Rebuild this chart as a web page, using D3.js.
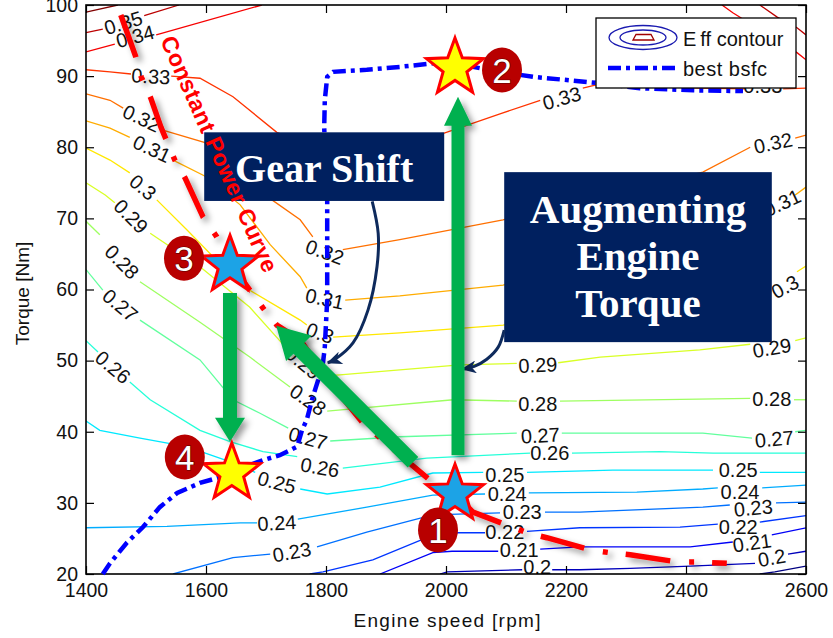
<!DOCTYPE html>
<html>
<head>
<meta charset="utf-8">
<script src="https://cdn.jsdelivr.net/npm/d3@7"></script>
<style>
  html, body { margin: 0; padding: 0; background: #fff; }
  svg { display: block; font-family: "Liberation Sans", Arial, sans-serif; }
</style>
</head>
<body>
<svg id="chart" width="833" height="638"></svg>
<script>
// ---- axes ----
const rpmTicks = [1400, 1600, 1800, 2000, 2200, 2400, 2600];
const torqueTicks = [20, 30, 40, 50, 60, 70, 80, 90, 100];

// ---- efficiency contour levels ----
const contourLevels = [0.19, 0.20, 0.21, 0.22, 0.23, 0.24, 0.25, 0.26, 0.27, 0.28, 0.29, 0.30, 0.31, 0.32, 0.33, 0.34, 0.35, 0.36];

// contour pieces: [level, [[rpm, torque], ...]]  (pieces are broken where labels sit)
const effSegments = [
  [0.36, [[1400, 99.0], [1453, 100]]],
  [0.35, [[1400, 96.1], [1428, 96.6]]],
  [0.35, [[1497, 98.5], [1555, 100]]],
  [0.35, [[2523, 100], [2552, 98.3], [2585, 96.8], [2600, 95.8]]],
  [0.34, [[1400, 93.4], [1448, 94.5]]],
  [0.34, [[1517, 95.8], [1693, 100]]],
  [0.34, [[2460, 100], [2478, 98.9], [2585, 93.3], [2600, 92.3]]],
  [0.33, [[1400, 90.9], [1440, 90.6], [1475, 90.3]]],
  [0.33, [[1542, 90.0], [1590, 89.7], [1645, 87.1], [1718, 82.1], [1790, 79.6], [1890, 80.7], [1997, 82.0], [2090, 84.7], [2157, 86.6]]],
  [0.33, [[2228, 88.3], [2257, 88.9], [2340, 88.6], [2423, 88.3], [2498, 88.2]]],
  [0.33, [[2562, 88.2], [2600, 88.3]]],
  [0.32, [[1400, 87.5], [1440, 86.6], [1462, 85.5]]],
  [0.32, [[1528, 82.4], [1597, 80.7], [1640, 77.5], [1698, 73.3], [1757, 69.8], [1778, 67.4]]],
  [0.32, [[1828, 65.6], [1923, 67.0], [2095, 69.8], [2428, 76.5], [2507, 80.0]]],
  [0.32, [[2582, 81.3], [2600, 81.7]]],
  [0.31, [[1400, 83.7], [1440, 82.7], [1473, 81.4]]],
  [0.31, [[1545, 78.2], [1597, 76.0], [1657, 71.9], [1707, 66.3], [1757, 61.8], [1768, 60.2]]],
  [0.31, [[1832, 58.5], [1923, 59.1], [2095, 60.6], [2543, 70.1]]],
  [0.31, [[2582, 73.3], [2600, 74.4]]],
  [0.30, [[1400, 79.9], [1440, 78.2], [1473, 76.4]]],
  [0.30, [[1518, 72.6], [1568, 68.4], [1612, 64.6], [1673, 59.9], [1757, 55.7], [1768, 55.0]]],
  [0.30, [[1812, 53.3], [1923, 53.9], [2095, 55.0], [2540, 59.9]]],
  [0.30, [[2585, 62.5], [2600, 63.3]]],
  [0.29, [[1400, 75.0], [1432, 73.3], [1448, 72.2]]],
  [0.29, [[1507, 67.9], [1590, 63.2], [1673, 57.5], [1740, 51.2]]],
  [0.29, [[1790, 47.8], [1823, 48.0], [2023, 49.4], [2118, 49.6]]],
  [0.29, [[2187, 49.7], [2257, 50.5], [2423, 51.5], [2507, 52.3]]],
  [0.29, [[2582, 52.8], [2600, 53.2]]],
  [0.28, [[1400, 69.6], [1423, 67.7]]],
  [0.28, [[1490, 61.1], [1590, 55.4], [1673, 50.5], [1740, 46.3]]],
  [0.28, [[1802, 42.9], [2012, 44.5], [2118, 44.3]]],
  [0.28, [[2190, 44.3], [2507, 44.7]]],
  [0.28, [[2580, 44.5], [2600, 44.5]]],
  [0.27, [[1400, 62.8], [1428, 59.9]]],
  [0.27, [[1490, 55.7], [1590, 50.1], [1645, 44.5], [1690, 42.6], [1737, 40.5]]],
  [0.27, [[1807, 38.7], [1923, 39.3], [2118, 39.8]]],
  [0.27, [[2193, 39.8], [2278, 39.8], [2428, 39.8], [2510, 39.1]]],
  [0.27, [[2582, 40.0], [2600, 40.2]]],
  [0.26, [[1400, 52.8], [1420, 51.2]]],
  [0.26, [[1473, 47.0], [1507, 44.5], [1590, 40.2], [1640, 38.6], [1695, 37.2], [1752, 36.5]]],
  [0.26, [[1828, 34.9], [1968, 36.3], [2140, 37.0]]],
  [0.26, [[2210, 37.0], [2357, 37.2], [2445, 37.0], [2600, 37.0]]],
  [0.25, [[1400, 41.5], [1423, 40.2], [1490, 39.1], [1568, 37.9], [1643, 35.7], [1682, 34.3]]],
  [0.25, [[1757, 31.95], [1802, 31.25], [1890, 32.2], [1978, 34.2], [2062, 34.3]]],
  [0.25, [[2135, 34.3], [2278, 34.6], [2445, 34.6]]],
  [0.25, [[2523, 34.3], [2600, 34.3]]],
  [0.24, [[1400, 26.5], [1535, 26.7], [1657, 27.2], [1685, 27.2]]],
  [0.24, [[1753, 27.7], [1868, 29.4], [1978, 31.1], [2065, 31.25]]],
  [0.24, [[2138, 31.4], [2318, 31.5], [2428, 31.95], [2453, 32.1]]],
  [0.24, [[2527, 32.1], [2600, 32.5]]],
  [0.23, [[1545, 20], [1645, 22.3], [1707, 22.8]]],
  [0.23, [[1785, 23.8], [1868, 25.9], [1978, 28.3], [2090, 28.6]]],
  [0.23, [[2165, 28.7], [2223, 28.7], [2428, 29.4], [2473, 29.7]]],
  [0.23, [[2550, 30.0], [2600, 30.1]]],
  [0.22, [[1773, 20], [1795, 20.3], [1878, 22.0], [1968, 25.1], [2012, 25.8], [2065, 25.8]]],
  [0.22, [[2135, 26.0], [2223, 26.5], [2390, 26.6], [2453, 27.0]]],
  [0.22, [[2523, 27.3], [2600, 28.2]]],
  [0.21, [[1890, 20], [1978, 23.0], [2010, 23.2], [2087, 23.2]]],
  [0.21, [[2157, 23.5], [2223, 23.8], [2407, 23.8], [2478, 24.5]]],
  [0.21, [[2543, 25.5], [2600, 26.5]]],
  [0.20, [[1990, 20], [2002, 20.3], [2127, 20.6]]],
  [0.20, [[2177, 20.6], [2223, 20.6], [2307, 20.8], [2407, 21.1], [2515, 21.5]]],
  [0.20, [[2570, 22.8], [2600, 23.2]]],
  [0.19, [[2523, 20], [2548, 20.3], [2600, 21.1]]]
];

// inline contour labels: [level, rpm, torque]
const effLabels = [
  [0.35, 1462, 97.5], [0.34, 1482, 95.6],
  [0.33, 1508, 90.0], [0.33, 2193, 86.9], [0.33, 2528, 88.7],
  [0.32, 1493, 84.1], [0.32, 1798, 65.3], [0.32, 2545, 80.6],
  [0.31, 1510, 79.8], [0.31, 1798, 58.7], [0.31, 2560, 72.2],
  [0.30, 1495, 74.4], [0.30, 1790, 53.9], [0.30, 2565, 60.4],
  [0.29, 1475, 70.3], [0.29, 1762, 49.7], [0.29, 2153, 49.4], [0.29, 2543, 51.8],
  [0.28, 1460, 63.9], [0.28, 1770, 44.5], [0.28, 2153, 44.0], [0.28, 2543, 44.6],
  [0.27, 1457, 57.8], [0.27, 1770, 39.1], [0.27, 2157, 39.5], [0.27, 2547, 39.0],
  [0.26, 1445, 49.1], [0.26, 1790, 35.0], [0.26, 2173, 37.0],
  [0.25, 1718, 32.9], [0.25, 2098, 33.9], [0.25, 2487, 34.6],
  [0.24, 1718, 27.2], [0.24, 2102, 31.25], [0.24, 2490, 31.5],
  [0.23, 1743, 23.1], [0.23, 2127, 28.7], [0.23, 2512, 29.3],
  [0.22, 2098, 25.9], [0.22, 2487, 26.7],
  [0.21, 2122, 23.4], [0.21, 2510, 24.4],
  [0.20, 2152, 21.0], [0.20, 2543, 22.3]
];
const labelAngles = [
  -17, -15,
  3, -16, 0,
  25, 20, -12,
  25, 12, -25,
  40, 20, -28,
  45, 40, -3, -10,
  45, 35, 0, 0,
  40, 15, -3, -5,
  40, 10, 0,
  15, 0, 0,
  -3, 0, 0,
  -10, 0, -5,
  0, 0,
  0, -8,
  0, -10
];

// ---- best bsfc operating line ----
const bestRpm = [1428, 1440, 1468, 1495, 1523, 1552, 1590, 1623, 1662, 1695, 1723, 1752, 1760, 1768, 1778, 1787, 1795, 1798, 1802, 1802, 1797, 1798, 1802, 1812, 1868, 1923, 1978, 2012, 2045, 2090, 2145, 2195, 2257, 2323, 2412, 2495];
const bestTq  = [20, 21.5, 24.4, 26.6, 29.4, 31.4, 32.8, 33.6, 35.0, 36.0, 36.7, 37.9, 40.2, 41.7, 44.9, 47.3, 49.7, 51.9, 58.5, 72.6, 82.8, 86.6, 89.9, 90.6, 90.9, 91.3, 91.8, 92.0, 91.3, 90.6, 89.9, 89.5, 89.0, 88.3, 88.0, 87.9];

// ---- constant power curve ----
const cpRpm = [1458, 1483, 1492, 1508, 1525, 1548, 1565, 1595, 1618, 1640, 1695, 1718, 1757, 1807, 1862, 1928, 1973, 2015, 2045, 2135, 2168, 2240, 2273, 2307, 2385, 2418, 2468];
const cpTq  = [98.6, 92.7, 89.9, 86.9, 82.8, 78.2, 75.7, 70.2, 67.4, 63.7, 57.4, 55.0, 52.9, 46.9, 41.2, 36.4, 33.2, 31.25, 28.7, 25.8, 25.1, 23.4, 23.0, 22.7, 21.7, 21.7, 21.5];

// ---- operating points 1..4 ----
const opNames = ["1", "2", "3", "4"];
const opRpm = [2015, 2015, 1640, 1643];
const opTq  = [31.25, 91.15, 63.4, 34.2];

// ---- transition arrows (rpm, torque) ----
const arrowFrom = [[2020, 36.7], [1640, 59.5], [1945, 35.7]];
const arrowTo   = [[2020, 87.1], [1640, 38.6], [1717, 54.9]];

// ---- callout text ----
const gearText = "Gear Shift";
const torqueText = ["Augmenting", "Engine", "Torque"];
const curveText = "Constant Power Curve";

// ===================================================================
const svg = d3.select("#chart");
const x = d3.scaleLinear().domain([1400, 2600]).range([86, 806]);
const y = d3.scaleLinear().domain([20, 100]).range([574, 5]);
const defs = svg.append("defs");

defs.append("clipPath").attr("id", "plotClip").append("rect")
  .attr("x", x(1400)).attr("y", y(100))
  .attr("width", x(2600) - x(1400)).attr("height", y(20) - y(100));

defs.append("filter").attr("id", "dropShadow")
  .attr("x", "-30%").attr("y", "-30%").attr("width", "170%").attr("height", "170%")
  .append("feDropShadow").attr("dx", 4).attr("dy", 4).attr("stdDeviation", 3)
  .attr("flood-color", "#000").attr("flood-opacity", 0.4);

defs.append("marker").attr("id", "callHead")
  .attr("viewBox", "0 0 14 12").attr("refX", 13).attr("refY", 6)
  .attr("markerWidth", 16).attr("markerHeight", 13)
  .attr("markerUnits", "userSpaceOnUse").attr("orient", "auto")
  .append("path").attr("d", "M0,0 L14,6 L0,12 L4,6 Z").attr("fill", "#0E2A5C");

// jet colour map over the contour level range
const lvMin = d3.min(contourLevels), lvMax = d3.max(contourLevels);
function jet(v) {
  const t = (v - lvMin) / (lvMax - lvMin);
  const c = a => Math.round(255 * Math.max(0, Math.min(1, a)));
  return d3.rgb(
    c(Math.min(4 * t - 1.5, -4 * t + 4.5)),
    c(Math.min(4 * t - 0.5, -4 * t + 3.5)),
    c(Math.min(4 * t + 0.5, -4 * t + 2.5))
  ).formatHex();
}

const line = d3.line().x(d => x(d[0])).y(d => y(d[1]));

// contour lines
svg.append("g").attr("clip-path", "url(#plotClip)")
  .selectAll("path").data(effSegments).join("path")
  .attr("d", d => line(d[1]))
  .attr("fill", "none")
  .attr("stroke", d => jet(d[0]))
  .attr("stroke-width", 1.3);

// contour labels
const fmt = d3.format(".2~f");
svg.append("g").selectAll("text").data(effLabels).join("text")
  .attr("transform", (d, i) => `translate(${x(d[1])},${y(d[2])}) rotate(${labelAngles[i]})`)
  .attr("text-anchor", "middle").attr("dy", "0.36em")
  .attr("font-size", 20).attr("fill", "#111")
  .text(d => fmt(d[0]));

// axes (ticks point inward on all four sides)
const styleAxis = g => {
  g.select(".domain").remove();
  g.selectAll(".tick line").attr("stroke", "#000").attr("stroke-width", 1.2);
  g.selectAll(".tick text").attr("fill", "#111").attr("font-size", 19.5)
    .attr("font-family", "'Liberation Sans', Arial, sans-serif");
};
svg.append("g").attr("transform", `translate(0,${y(20)})`)
  .call(d3.axisBottom(x).tickValues(rpmTicks).tickSizeInner(-8).tickSizeOuter(0).tickPadding(9).tickFormat(d3.format("d")))
  .call(styleAxis);
svg.append("g").attr("transform", `translate(${x(1400)},0)`)
  .call(d3.axisLeft(y).tickValues(torqueTicks).tickSizeInner(-8).tickSizeOuter(0).tickPadding(8))
  .call(styleAxis);
svg.append("g").attr("transform", `translate(0,${y(100)})`)
  .call(d3.axisTop(x).tickValues(rpmTicks).tickSizeInner(-8).tickSizeOuter(0).tickFormat(""))
  .call(styleAxis);
svg.append("g").attr("transform", `translate(${x(2600)},0)`)
  .call(d3.axisRight(y).tickValues(torqueTicks).tickSizeInner(-8).tickSizeOuter(0).tickFormat(""))
  .call(styleAxis);
svg.append("rect")
  .attr("x", x(1400)).attr("y", y(100))
  .attr("width", x(2600) - x(1400)).attr("height", y(20) - y(100))
  .attr("fill", "none").attr("stroke", "#000").attr("stroke-width", 1.6);

// axis titles
svg.append("text").attr("x", (x(1400) + x(2600)) / 2 + 1).attr("y", 627)
  .attr("text-anchor", "middle").attr("font-size", 19).attr("fill", "#111")
  .attr("textLength", 187).attr("lengthAdjust", "spacing")
  .text("Engine speed [rpm]");
svg.append("text").attr("transform", `translate(29,${(y(20) + y(100)) / 2 + 4}) rotate(-90)`)
  .attr("text-anchor", "middle").attr("font-size", 19).attr("fill", "#111")
  .text("Torque [Nm]");

// best bsfc line
const bestPts = bestRpm.map((r, i) => [r, bestTq[i]]);
svg.append("path").attr("d", line(bestPts))
  .attr("fill", "none").attr("stroke", "#0000FF").attr("stroke-width", 4.5)
  .attr("stroke-dasharray", "13,5,4,5");

// constant power curve
const cpPts = cpRpm.map((r, i) => [r, cpTq[i]]);
svg.append("path").attr("d", line(cpPts))
  .attr("fill", "none").attr("stroke", "#FF0000").attr("stroke-width", 5.5)
  .attr("stroke-dasharray", "45,19,5,18")
  .attr("filter", "url(#dropShadow)");

// callout boxes
const boxFill = "#00205F";
const gearBox = { x0: x(1597), x1: x(1997), y0: y(82.1), y1: y(72.45) };
svg.append("rect").attr("x", gearBox.x0).attr("y", gearBox.y0)
  .attr("width", gearBox.x1 - gearBox.x0).attr("height", gearBox.y1 - gearBox.y0)
  .attr("fill", boxFill);
svg.append("text").attr("x", (gearBox.x0 + gearBox.x1) / 2).attr("y", gearBox.y1 - 19)
  .attr("text-anchor", "middle").attr("font-family", "'Liberation Serif', 'Times New Roman', serif")
  .attr("font-weight", "bold").attr("font-size", 40).attr("fill", "#fff")
  .text(gearText);

const augBox = { x0: x(2097), x1: x(2543), y0: y(76.5), y1: y(52.6) };
svg.append("rect").attr("x", augBox.x0).attr("y", augBox.y0)
  .attr("width", augBox.x1 - augBox.x0).attr("height", augBox.y1 - augBox.y0)
  .attr("fill", boxFill);
svg.append("g").selectAll("text").data(torqueText).join("text")
  .attr("x", (augBox.x0 + augBox.x1) / 2).attr("y", (d, i) => augBox.y0 + 51 + i * 47)
  .attr("text-anchor", "middle").attr("font-family", "'Liberation Serif', 'Times New Roman', serif")
  .attr("font-weight", "bold").attr("font-size", 41).attr("fill", "#fff")
  .text(d => d);

// callout pointers
const curve = d3.line().x(d => x(d[0])).y(d => y(d[1])).curve(d3.curveCatmullRom);
const gearPointer = [[1877, 72.4], [1887, 67.9], [1885, 63.2], [1870, 57.1], [1845, 52.5], [1815, 50.2], [1803, 49.7]];
const torquePointer = [[2097, 54.3], [2087, 51.9], [2068, 50.2], [2047, 49.2], [2027, 48.8]];
svg.append("g").selectAll("path").data([gearPointer, torquePointer]).join("path")
  .attr("d", d => curve(d)).attr("fill", "none")
  .attr("stroke", "#0E2A5C").attr("stroke-width", 3)
  .attr("marker-end", "url(#callHead)");

// green transition arrows
const arrowShaft = [13, 14, 15], arrowHeadW = [28, 30, 36], arrowHeadL = [29, 24, 32];
function arrowPath(p0, p1, sw, hw, hl) {
  const dx = p1[0] - p0[0], dy = p1[1] - p0[1], L = Math.hypot(dx, dy);
  const ux = dx / L, uy = dy / L, nx = -uy, ny = ux;
  const bx = p1[0] - ux * hl, by = p1[1] - uy * hl;
  const pts = [
    [p0[0] + nx * sw / 2, p0[1] + ny * sw / 2], [bx + nx * sw / 2, by + ny * sw / 2],
    [bx + nx * hw / 2, by + ny * hw / 2], [p1[0], p1[1]],
    [bx - nx * hw / 2, by - ny * hw / 2], [bx - nx * sw / 2, by - ny * sw / 2],
    [p0[0] - nx * sw / 2, p0[1] - ny * sw / 2]
  ];
  return "M" + pts.map(p => p[0].toFixed(1) + "," + p[1].toFixed(1)).join("L") + "Z";
}
svg.append("g").selectAll("path").data(arrowFrom).join("path")
  .attr("d", (d, i) => arrowPath([x(d[0]), y(d[1])], [x(arrowTo[i][0]), y(arrowTo[i][1])], arrowShaft[i], arrowHeadW[i], arrowHeadL[i]))
  .attr("fill", "#00B050").attr("filter", "url(#dropShadow)");

// stars at operating points
function starPath(cx, cy, R, r) {
  let s = "";
  for (let k = 0; k < 10; k++) {
    const a = -Math.PI / 2 + k * Math.PI / 5, rad = k % 2 ? r : R;
    s += (k ? "L" : "M") + (cx + rad * Math.cos(a)).toFixed(1) + "," + (cy + rad * Math.sin(a)).toFixed(1);
  }
  return s + "Z";
}
const starFill = ["#1CA3E6", "#FFFF00", "#1CA3E6", "#FFFF00"];
svg.append("g").selectAll("path").data(opNames).join("path")
  .attr("d", (d, i) => starPath(x(opRpm[i]), y(opTq[i]), 30, 12.5))
  .attr("fill", (d, i) => starFill[i]).attr("stroke", "#FF0000").attr("stroke-width", 3)
  .attr("stroke-linejoin", "miter");

// numbered badges next to each point
const badgeDx = [-17, 47, -46, -47], badgeDy = [36, 2, -7, -16];
const badges = svg.append("g").selectAll("g").data(opNames).join("g")
  .attr("transform", (d, i) => `translate(${x(opRpm[i]) + badgeDx[i]},${y(opTq[i]) + badgeDy[i]})`);
badges.append("ellipse").attr("rx", 20).attr("ry", 22.5).attr("fill", "#B80000");
badges.append("text").attr("text-anchor", "middle").attr("dy", "0.36em")
  .attr("font-size", 35).attr("fill", "#fff")
  .attr("stroke", "#5a0000").attr("stroke-width", 1.2).attr("paint-order", "stroke")
  .text(d => d);

// constant power curve caption
svg.append("text")
  .attr("transform", `translate(${x(1610)},${y(78.6)}) rotate(66)`)
  .attr("text-anchor", "middle").attr("font-weight", "bold").attr("font-size", 23)
  .attr("fill", "#FF0000").attr("textLength", 256).attr("lengthAdjust", "spacing")
  .text(curveText);

// legend
const lg = svg.append("g");
lg.append("rect").attr("x", 596).attr("y", 18).attr("width", 200).attr("height", 70)
  .attr("fill", "#fff").attr("stroke", "#000").attr("stroke-width", 1.3);
lg.append("ellipse").attr("cx", 643).attr("cy", 37.5).attr("rx", 34).attr("ry", 12)
  .attr("fill", "none").attr("stroke", "#1a1aB0").attr("stroke-width", 1.3);
lg.append("ellipse").attr("cx", 643).attr("cy", 37.5).attr("rx", 23).attr("ry", 7.5)
  .attr("fill", "none").attr("stroke", "#1a1aB0").attr("stroke-width", 1.3);
lg.append("path").attr("d", "M633,40 L636,34.5 L651,34.5 L654,40 Z")
  .attr("fill", "none").attr("stroke", "#A00000").attr("stroke-width", 1.3);
const effLegend = lg.append("text").attr("x", 683).attr("y", 46)
  .attr("font-size", 20).attr("fill", "#111");
effLegend.append("tspan").text("E");
effLegend.append("tspan").attr("dx", 4).text("ff contour");
lg.append("line").attr("x1", 608).attr("x2", 677).attr("y1", 68).attr("y2", 68)
  .attr("stroke", "#0000FF").attr("stroke-width", 4.5).attr("stroke-dasharray", "13,5,4,5");
lg.append("text").attr("x", 683).attr("y", 76).attr("font-size", 20).attr("fill", "#111")
  .attr("letter-spacing", 0.5).text("best bsfc");
</script>
</body>
</html>
